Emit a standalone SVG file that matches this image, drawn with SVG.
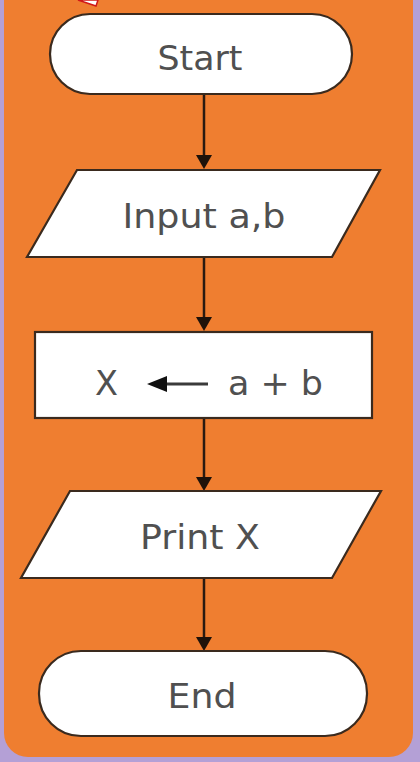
<svg xmlns="http://www.w3.org/2000/svg" width="420" height="762" viewBox="0 0 420 762">
<defs>
<style>
.shape{fill:#ffffff;stroke:#3a2a1e;stroke-width:2.2}
.lbl{font-family:"DejaVu Sans","Open Sans",sans-serif;font-size:34px;fill:#505050}
.conn{stroke:#2a1a10;stroke-width:2.5;fill:none}
.head{fill:#1e120a}
</style>
</defs>
<rect x="0" y="0" width="420" height="762" fill="#b4a0d6"/>
<rect x="4" y="-30" width="409" height="787" rx="24" ry="24" fill="#ef7e30"/>
<polygon points="78,0 98,0 96,6" fill="#ffffff" stroke="#d01818" stroke-width="1.5"/>
<g id="connectors">
<line class="conn" x1="204" y1="94" x2="204" y2="156"/>
<path class="head" d="M196,155 L212,155 L204,169 Z"/>
<line class="conn" x1="204" y1="257" x2="204" y2="318"/>
<path class="head" d="M196,317 L212,317 L204,331 Z"/>
<line class="conn" x1="204" y1="418" x2="204" y2="478"/>
<path class="head" d="M196,477 L212,477 L204,491 Z"/>
<line class="conn" x1="204" y1="578" x2="204" y2="638"/>
<path class="head" d="M196,637 L212,637 L204,651 Z"/>
</g>
<g id="start">
<rect class="shape" x="50" y="14" width="302" height="80" rx="40" ry="40"/>
<text class="lbl" x="200" y="70" text-anchor="middle" textLength="85" lengthAdjust="spacingAndGlyphs">Start</text>
</g>
<g id="input">
<polygon class="shape" points="77,170 380,170 332,257 27,257"/>
<text class="lbl" x="204" y="228" text-anchor="middle" textLength="163" lengthAdjust="spacingAndGlyphs">Input a,b</text>
</g>
<g id="process">
<rect class="shape" x="35" y="332" width="337" height="86"/>
<text class="lbl" x="95" y="395" textLength="23" lengthAdjust="spacingAndGlyphs">X</text>
<line x1="162" y1="384" x2="208" y2="384" stroke="#3a3a3a" stroke-width="3"/>
<path d="M147,384 L167,376 L167,392 Z" fill="#111"/>
<text class="lbl" x="228" y="395" textLength="95" lengthAdjust="spacingAndGlyphs">a + b</text>
</g>
<g id="print">
<polygon class="shape" points="70,491 381,491 332,578 21,578"/>
<text class="lbl" x="200" y="549" text-anchor="middle" textLength="120" lengthAdjust="spacingAndGlyphs">Print X</text>
</g>
<g id="end">
<rect class="shape" x="39" y="651" width="328" height="85" rx="42" ry="42"/>
<text class="lbl" x="202" y="708" text-anchor="middle" textLength="69" lengthAdjust="spacingAndGlyphs">End</text>
</g>
</svg>
